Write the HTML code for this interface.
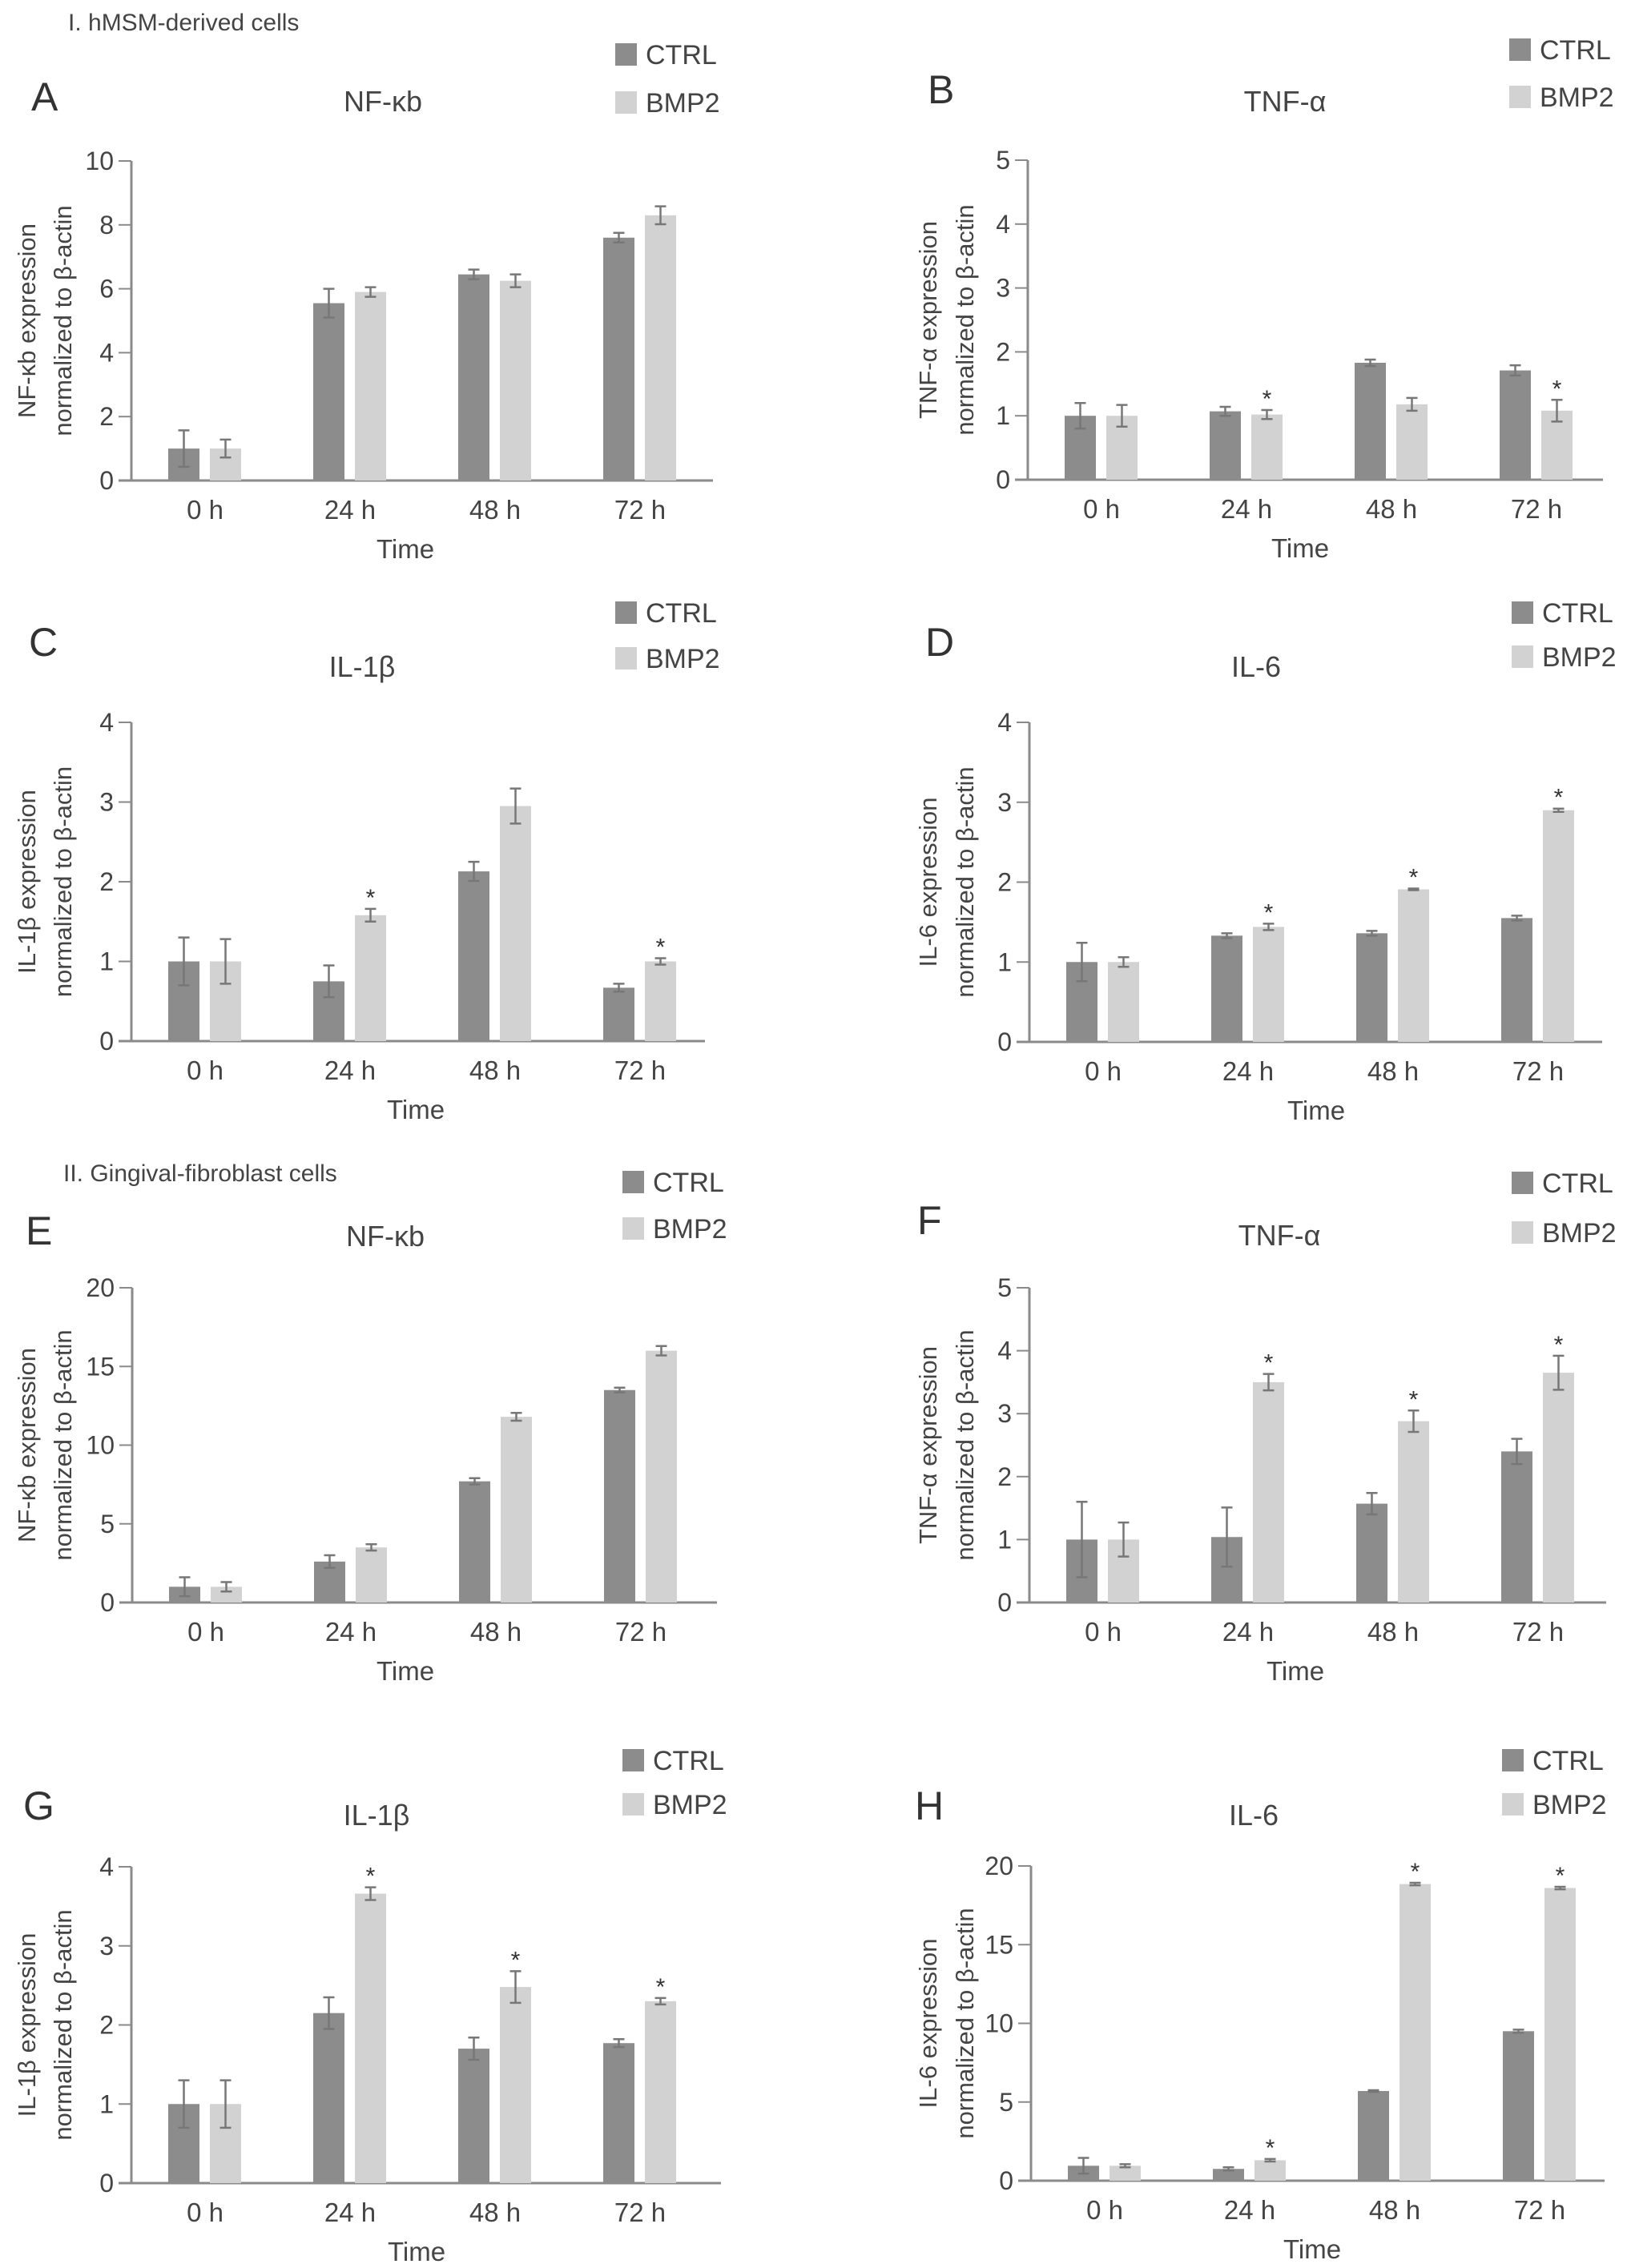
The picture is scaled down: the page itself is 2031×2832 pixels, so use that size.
<!DOCTYPE html>
<html><head><meta charset="utf-8">
<style>
html,body{margin:0;padding:0;background:#fff;}
svg{display:block;font-family:"Liberation Sans",Arial,sans-serif;}
</style></head>
<body>
<svg id="fig" width="2031" height="2832" viewBox="0 0 2031 2832" xmlns="http://www.w3.org/2000/svg">
<text x="85" y="38" font-size="30" fill="#444">I. hMSM-derived cells</text>
<text x="79" y="1475" font-size="30" fill="#444">II. Gingival-fibroblast cells</text>
</svg>
<script>
const categories = ["0 h","24 h","48 h","72 h"];
const seriesNames = ["CTRL","BMP2"];
// Panel A NF-kb (hMSM)
const aCtrl = [1.0,5.55,6.45,7.6], aCtrlErr=[0.57,0.45,0.15,0.15];
const aBmp = [1.0,5.9,6.25,8.3], aBmpErr=[0.28,0.15,0.2,0.28];
const aStars = [false,false,false,false];
const aTicks = [0,2,4,6,8,10];
// Panel B TNF-a
const bCtrl = [1.0,1.07,1.83,1.71], bCtrlErr=[0.2,0.07,0.05,0.08];
const bBmp = [1.0,1.02,1.18,1.08], bBmpErr=[0.17,0.07,0.1,0.17];
const bStars = [false,true,false,true];
const bTicks = [0,1,2,3,4,5];
// Panel C IL-1b
const cCtrl = [1.0,0.75,2.13,0.67], cCtrlErr=[0.3,0.2,0.12,0.05];
const cBmp = [1.0,1.58,2.95,1.0], cBmpErr=[0.28,0.08,0.22,0.04];
const cStars = [false,true,false,true];
const cTicks = [0,1,2,3,4];
// Panel D IL-6
const dCtrl = [1.0,1.33,1.36,1.55], dCtrlErr=[0.24,0.03,0.03,0.03];
const dBmp = [1.0,1.44,1.91,2.9], dBmpErr=[0.06,0.04,0.01,0.02];
const dStars = [false,true,true,true];
const dTicks = [0,1,2,3,4];
// Panel E NF-kb (gingival)
const eCtrl = [1.0,2.6,7.7,13.5], eCtrlErr=[0.6,0.4,0.2,0.15];
const eBmp = [1.0,3.5,11.8,16.0], eBmpErr=[0.3,0.2,0.25,0.3];
const eStars = [false,false,false,false];
const eTicks = [0,5,10,15,20];
// Panel F TNF-a
const fCtrl = [1.0,1.04,1.57,2.4], fCtrlErr=[0.6,0.47,0.17,0.2];
const fBmp = [1.0,3.5,2.88,3.65], fBmpErr=[0.27,0.13,0.17,0.27];
const fStars = [false,true,true,true];
const fTicks = [0,1,2,3,4,5];
// Panel G IL-1b
const gCtrl = [1.0,2.15,1.7,1.77], gCtrlErr=[0.3,0.2,0.14,0.05];
const gBmp = [1.0,3.66,2.48,2.3], gBmpErr=[0.3,0.08,0.2,0.04];
const gStars = [false,true,true,true];
const gTicks = [0,1,2,3,4];
// Panel H IL-6
const hCtrl = [0.95,0.75,5.7,9.5], hCtrlErr=[0.5,0.1,0.05,0.1];
const hBmp = [0.95,1.3,18.85,18.6], hBmpErr=[0.1,0.08,0.08,0.08];
const hStars = [false,true,true,true];
const hTicks = [0,5,10,15,20];

const NS="http://www.w3.org/2000/svg";
const svg=document.getElementById("fig");
function el(tag,attrs,parent){const e=document.createElementNS(NS,tag);for(const k in attrs)e.setAttribute(k,attrs[k]);(parent||svg).appendChild(e);return e;}

const panels=[
 {id:"a",letter:"A",title:"NF-κb",yl1:"NF-κb expression",ctrl:aCtrl,ce:aCtrlErr,bmp:aBmp,be:aBmpErr,stars:aStars,ticks:aTicks,
  ax:164,xe:890,top:201,y0:600,lx:39,ly:120,tx:478,ty:127,legX:768,legY:[68,128],timeX:506,ylx:[33,78]},
 {id:"b",letter:"B",title:"TNF-α",yl1:"TNF-α expression",ctrl:bCtrl,ce:bCtrlErr,bmp:bBmp,be:bBmpErr,stars:bStars,ticks:bTicks,
  ax:1283,xe:2001,top:200,y0:599,lx:1158,ly:111,tx:1604,ty:127,legX:1884,legY:[62,121],timeX:1623,ylx:[1158,1204]},
 {id:"c",letter:"C",title:"IL-1β",yl1:"IL-1β expression",ctrl:cCtrl,ce:cCtrlErr,bmp:cBmp,be:cBmpErr,stars:cStars,ticks:cTicks,
  ax:164,xe:880,top:902,y0:1300,lx:36,ly:801,tx:452,ty:833,legX:768,legY:[765,822],timeX:519,ylx:[33,78]},
 {id:"d",letter:"D",title:"IL-6",yl1:"IL-6 expression",ctrl:dCtrl,ce:dCtrlErr,bmp:dBmp,be:dBmpErr,stars:dStars,ticks:dTicks,
  ax:1285,xe:2000,top:902,y0:1301,lx:1155,ly:801,tx:1568,ty:833,legX:1887,legY:[765,820],timeX:1643,ylx:[1158,1204]},
 {id:"e",letter:"E",title:"NF-κb",yl1:"NF-κb expression",ctrl:eCtrl,ce:eCtrlErr,bmp:eBmp,be:eBmpErr,stars:eStars,ticks:eTicks,
  ax:165,xe:895,top:1608,y0:2001,lx:32,ly:1536,tx:481,ty:1544,legX:777,legY:[1476,1534],timeX:506,ylx:[33,78]},
 {id:"f",letter:"F",title:"TNF-α",yl1:"TNF-α expression",ctrl:fCtrl,ce:fCtrlErr,bmp:fBmp,be:fBmpErr,stars:fStars,ticks:fTicks,
  ax:1285,xe:2005,top:1608,y0:2001,lx:1145,ly:1523,tx:1597,ty:1543,legX:1887,legY:[1477,1539],timeX:1617,ylx:[1158,1204]},
 {id:"g",letter:"G",title:"IL-1β",yl1:"IL-1β expression",ctrl:gCtrl,ce:gCtrlErr,bmp:gBmp,be:gBmpErr,stars:gStars,ticks:gTicks,
  ax:164,xe:900,top:2331,y0:2726,lx:29,ly:2254,tx:470,ty:2267,legX:777,legY:[2198,2253],timeX:520,ylx:[33,78]},
 {id:"h",letter:"H",title:"IL-6",yl1:"IL-6 expression",ctrl:hCtrl,ce:hCtrlErr,bmp:hBmp,be:hBmpErr,stars:hStars,ticks:hTicks,
  ax:1287,xe:2003,top:2330,y0:2723,lx:1142,ly:2254,tx:1565,ty:2267,legX:1875,legY:[2198,2253],timeX:1638,ylx:[1158,1204]}
];
const CTRLC="#8c8c8c", BMPC="#d2d2d2", AXC="#8a8a8a", TXT="#444";

panels.forEach(p=>{
  const g=el("g",{});
  
  
  const maxV=p.ticks[p.ticks.length-1];
  const yS=v=>p.y0-(v/maxV)*(p.y0-p.top);
  const xC=i=>p.ax+92+181*i;
  const L=el("text",{x:p.lx,y:p.ly+18,"font-size":50,fill:"#333"},g);L.textContent=p.letter;
  
  
  const T=el("text",{x:p.tx,y:p.ty+12,"font-size":36,fill:TXT,"text-anchor":"middle"},g);T.textContent=p.title;
  
  
  [CTRLC,BMPC].forEach((c,k)=>{
    const r=el("rect",{x:p.legX,y:p.legY[k]-14,width:27,height:28,fill:c},g);
    
    
    const t=el("text",{x:p.legX+38,y:p.legY[k]+12,"font-size":34,fill:TXT},g);t.textContent=seriesNames[k];
    
    
  });
  const ya=el("line",{x1:p.ax,y1:p.top,x2:p.ax,y2:p.y0,stroke:AXC,"stroke-width":3},g);
  
  
  const xa=el("line",{x1:p.ax-16,y1:p.y0,x2:p.xe,y2:p.y0,stroke:AXC,"stroke-width":3},g);
  
  
  p.ticks.forEach(v=>{
    const y=yS(v);
    el("line",{x1:p.ax-16,y1:y,x2:p.ax,y2:y,stroke:AXC,"stroke-width":2},g);
    const t=el("text",{x:p.ax-22,y:y+11,"font-size":32,fill:TXT,"text-anchor":"end"},g);t.textContent=v;
    
    
  });
  const cy=(p.top+p.y0)/2;
  [p.yl1,"normalized to β-actin"].forEach((s,k)=>{
    const t=el("text",{x:p.ylx[k],y:cy,"font-size":31,fill:TXT,"text-anchor":"middle",transform:`rotate(-90 ${p.ylx[k]} ${cy})`,dy:11},g);t.textContent=s;
    
    
  });
  categories.forEach((c,i)=>{
    const t=el("text",{x:xC(i),y:p.y0+48,"font-size":33,fill:TXT,"text-anchor":"middle"},g);t.textContent=c;
    
    
  });
  const tm=el("text",{x:p.timeX,y:p.y0+97,"font-size":33,fill:TXT,"text-anchor":"middle"},g);tm.textContent="Time";
  
  
  const sets=[[p.ctrl,p.ce,CTRLC,-46,"ctrl"],[p.bmp,p.be,BMPC,6,"bmp2"]];
  sets.forEach(([vals,errs,col,off,nm],k)=>{
    vals.forEach((v,i)=>{
      const x=xC(i)+off, y=yS(v);
      const b=el("rect",{x:x,y:y,width:39,height:p.y0-y,fill:col},g);
      
      
      const mx=x+19.5, yt=yS(v+errs[i]), yb=yS(v-errs[i]);
      const e=el("path",{d:`M${mx-7},${yt}H${mx+7}M${mx},${yt}V${yb}M${mx-7},${yb}H${mx+7}`,stroke:"#777","stroke-width":2.5,fill:"none"},g);
      
      
      if(k===1 && p.stars[i]){
        const s=el("text",{x:mx,y:yt-4,"font-size":30,fill:"#333","text-anchor":"middle"},g);s.textContent="*";
        
        
      }
    });
  });
});
</script>
</body></html>
